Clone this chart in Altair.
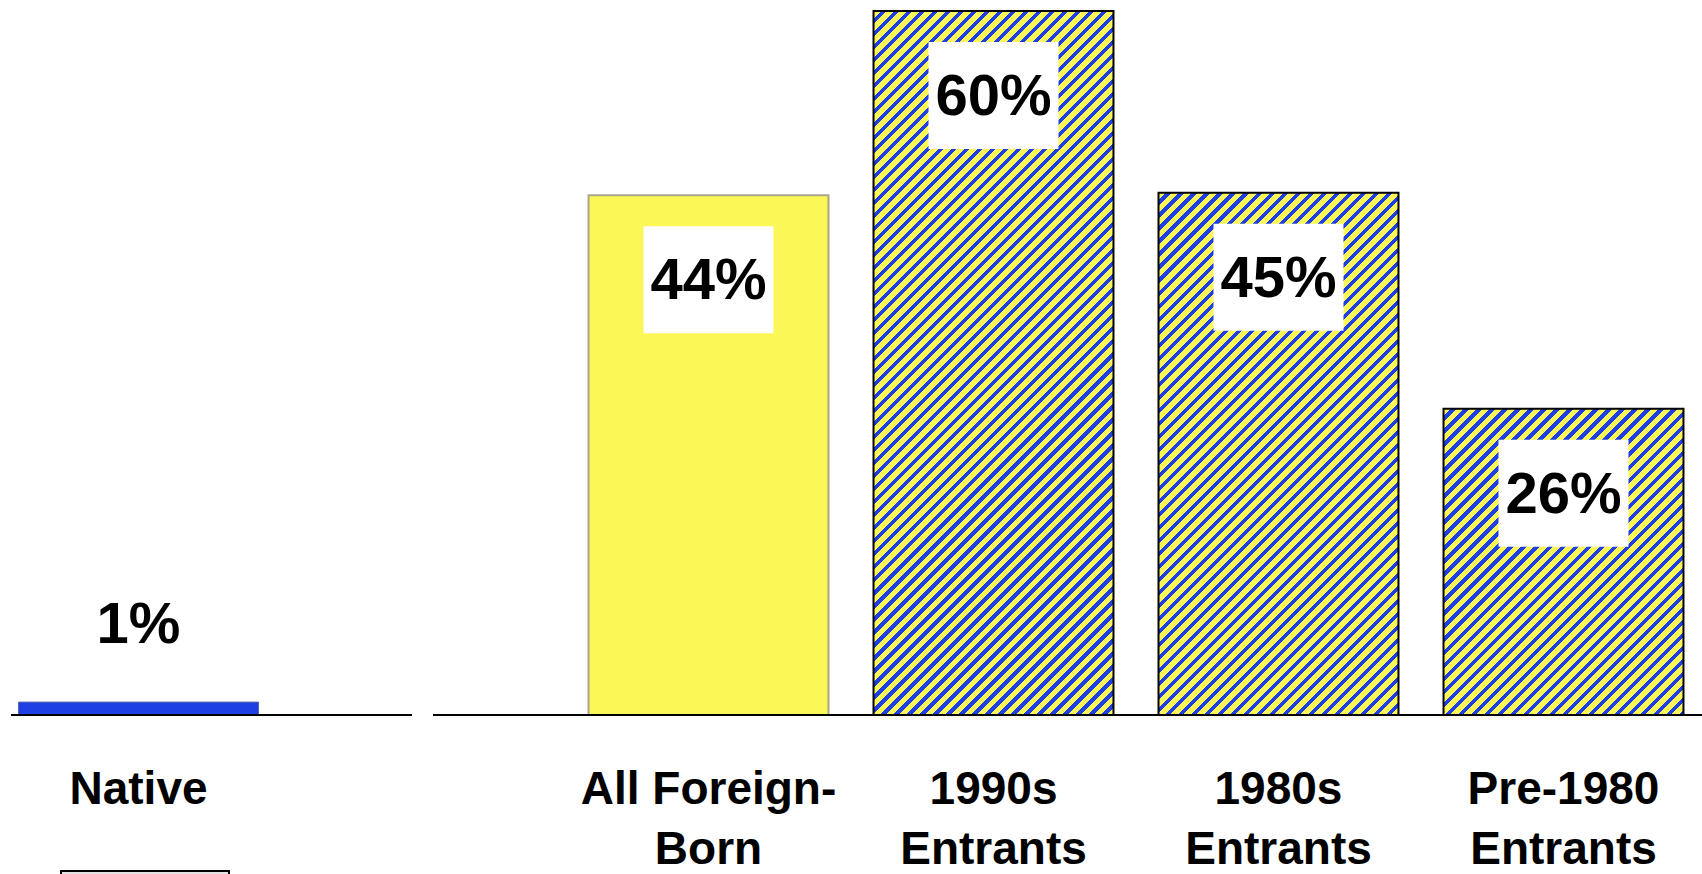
import math
import altair as alt
import pandas as pd

# ---- data ----
categories = ["Native", "All Foreign-|Born", "1990s|Entrants", "1980s|Entrants", "Pre-1980|Entrants"]
values = [1.1, 44.3, 60.0, 44.5, 26.1]
value_labels = ["1%", "44%", "60%", "45%", "26%"]
kinds = ["native", "all", "hatch", "hatch", "hatch"]
spacer = " "

# ---- style ----
W, H = 1702, 704
PI, PO = 0.158, 0.065
YMAX = 60
BLUE = "#1d3fe3"
YELLOW = "#fbf757"
FONT = "Liberation Sans"

domain_order = [categories[0], spacer] + categories[1:]
step = W / (len(domain_order) - PI + 2 * PO)
bar_w = step * (1 - PI)

df = pd.DataFrame({"cat": categories, "value": values, "label": value_labels, "kind": kinds})


def hatch(value, period=9.2, blue_frac=0.42):
    """Diagonal stripe fill built as a linear gradient with hard stops."""
    h = value / YMAX * H
    w = bar_w
    k = (w + h) / (w * w + h * h)
    x2, y2 = round(w * k, 5), round(h * k, 5)
    L = (w + h) / math.sqrt(2)
    n = int(math.ceil(L / period))
    stops = []
    for i in range(n):
        a = round(min(i * period / L, 1.0), 5)
        b = round(min((i + 1 - blue_frac) * period / L, 1.0), 5)
        c = round(min((i + 1) * period / L, 1.0), 5)
        stops += [
            alt.GradientStop(offset=a, color=YELLOW),
            alt.GradientStop(offset=b, color=YELLOW),
            alt.GradientStop(offset=b, color=BLUE),
            alt.GradientStop(offset=c, color=BLUE),
        ]
    return alt.LinearGradient(gradient="linear", x1=0, y1=0, x2=x2, y2=y2, stops=stops)


x_enc = alt.X(
    "cat:N",
    sort=domain_order,
    scale=alt.Scale(domain=domain_order, paddingInner=PI, paddingOuter=PO),
    axis=alt.Axis(
        title=None,
        labelExpr="split(datum.label, '|')",
        labelAngle=0,
        labelFont=FONT,
        labelFontSize=46,
        labelFontWeight="bold",
        labelColor="black",
        labelPadding=52,
        labelLineHeight=60,
        labelLimit=500,
        labelOverlap=False,
        ticks=False,
        domain=False,
        grid=False,
    ),
)
y_enc = alt.Y("value:Q", scale=alt.Scale(domain=[0, YMAX], nice=False, zero=True), axis=None)

base = alt.Chart(df)

native_bar = base.transform_filter(alt.datum.kind == "native").mark_bar(
    fill=BLUE, stroke="#5a6aa8", strokeWidth=1
).encode(x=x_enc, y=y_enc)

all_bar = base.transform_filter(alt.datum.kind == "all").mark_bar(
    fill=YELLOW, stroke="#a9a68a", strokeWidth=2
).encode(x=x_enc, y=y_enc)

hatch_layers = []
for c, v, kd in zip(categories, values, kinds):
    if kd == "hatch":
        hatch_layers.append(
            base.transform_filter(alt.datum.cat == c)
            .mark_bar(stroke="black", strokeWidth=2)
            .encode(x=x_enc, y=y_enc, fill=alt.value(hatch(v)))
        )

boxes = base.transform_filter(alt.datum.kind != "native").mark_bar(
    width=130, fill="white", yOffset=31, y2Offset=138
).encode(x=x_enc, y=y_enc, y2=alt.Y2("value"))

inner_text = base.transform_filter(alt.datum.kind != "native").mark_text(
    font=FONT, fontSize=58, fontWeight="bold", color="black", baseline="middle", dy=87
).encode(x=x_enc, y=y_enc, text="label:N")

native_text = base.transform_filter(alt.datum.kind == "native").mark_text(
    font=FONT, fontSize=58, fontWeight="bold", color="black", baseline="middle", dy=-76
).encode(x=x_enc, y=y_enc, text="label:N")

one = alt.Chart(pd.DataFrame({"k": [0]}))
rule_left = one.mark_rule(color="black", strokeWidth=2).encode(
    x=alt.value(11), x2=alt.value(412), y=alt.value(H)
)
rule_right = one.mark_rule(color="black", strokeWidth=2).encode(
    x=alt.value(433), x2=alt.value(1702), y=alt.value(H)
)
corner_box = one.mark_bar(fill="#e2e2e2", stroke="black", strokeWidth=2).encode(
    x=alt.value(61), x2=alt.value(229), y=alt.value(H + 156), y2=alt.value(H + 200)
)

chart = alt.layer(
    native_bar, all_bar, *hatch_layers, rule_left, rule_right, boxes, inner_text, native_text, corner_box
).properties(
    width=W,
    height=H,
    padding={"left": 0, "top": 11, "right": 0, "bottom": 159},
    autosize=alt.AutoSizeParams(type="none"),
    background="white",
).configure_view(stroke=None)

chart.save("out.html", embed_options={"renderer": "svg", "actions": False})
